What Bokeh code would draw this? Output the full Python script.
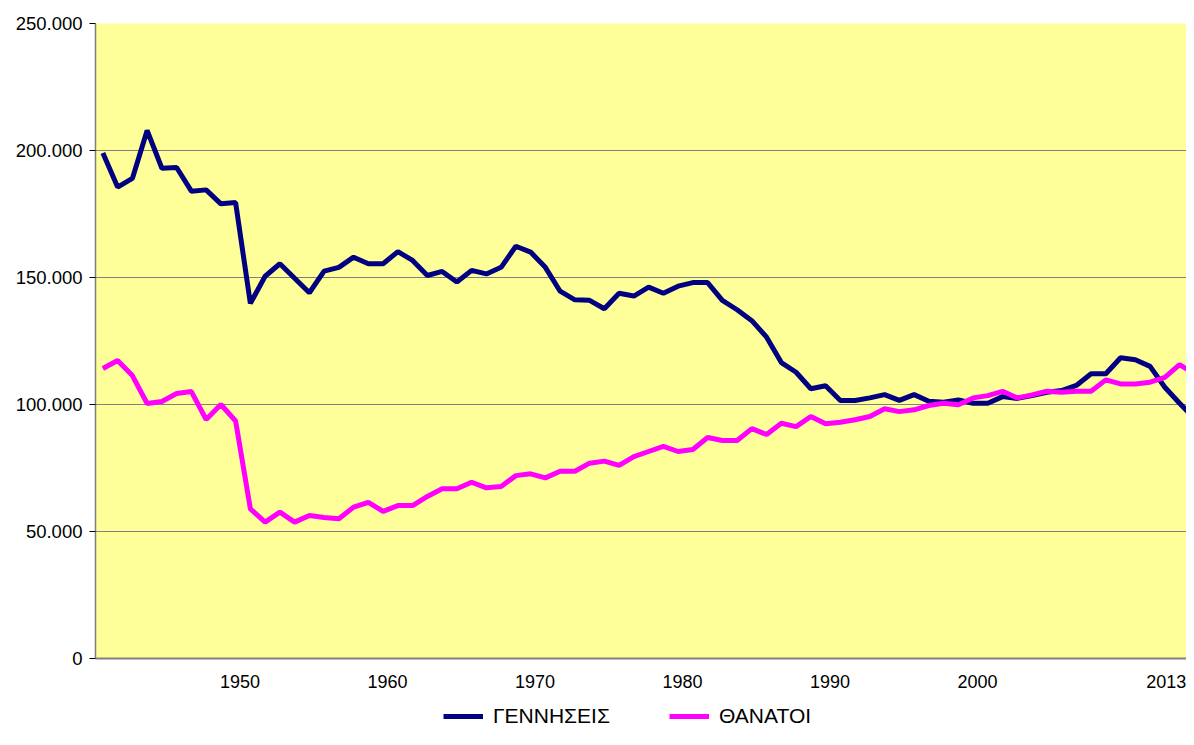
from bokeh.plotting import figure
from bokeh.models import Range1d, FixedTicker, Legend, LegendItem
from bokeh.layouts import column
from bokeh.embed import file_html
from bokeh.resources import INLINE

# Values in thousands, one per category (left to right)
births_k = [199.0, 185.6, 189.0, 207.9, 193.0, 193.3, 184.0, 184.5, 179.0, 179.5,
            139.8, 150.5, 155.4, 149.7, 144.0, 152.5, 154.0, 158.0, 155.4, 155.4,
            160.2, 156.7, 150.8, 152.4, 148.2, 152.8, 151.4, 154.0, 162.3, 160.0,
            154.0, 144.6, 141.2, 141.0, 137.7, 143.8, 142.7, 146.2, 143.8, 146.6,
            148.0, 148.0, 141.0, 137.3, 133.0, 126.5, 116.5, 112.7, 106.2, 107.4,
            101.6, 101.6, 102.6, 103.9, 101.6, 103.9, 101.3, 100.9, 101.8, 100.5,
            100.5, 103.1, 102.4, 103.5, 104.8, 105.5, 107.5, 112.1, 112.1, 118.4,
            117.6, 115.0, 106.8, 100.5, 94.4]
deaths_k = [114.2, 117.3, 111.4, 100.4, 101.2, 104.3, 105.1, 94.1, 100.0, 93.5,
            58.9, 53.7, 57.6, 53.7, 56.3, 55.5, 55.0, 59.6, 61.5, 57.9,
            60.2, 60.2, 63.8, 66.8, 66.8, 69.4, 67.2, 67.7, 72.0, 72.7,
            71.1, 73.7, 73.7, 76.9, 77.7, 76.0, 79.5, 81.5, 83.5, 81.5,
            82.3, 87.0, 85.8, 85.8, 90.5, 88.2, 92.6, 91.3, 95.3, 92.4,
            93.0, 94.0, 95.3, 98.3, 97.2, 97.9, 99.6, 100.5, 99.9, 102.6,
            103.5, 105.2, 102.6, 103.8, 105.2, 104.8, 105.2, 105.2, 109.7, 108.1,
            108.1, 108.8, 110.7, 115.7, 112.1]
series_names = ["ΓΕΝΝΗΣΕΙΣ", "ΘΑΝΑΤΟΙ"]
series_colors = ["#000080", "#FF00FF"]

x_tick_labels = ["1950", "1960", "1970", "1980", "1990", "2000", "2013"]
x_tick_index = [9, 19, 29, 39, 49, 59, 72]
y_ticks = [0, 50000, 100000, 150000, 200000, 250000]

births = [v * 1000 for v in births_k]
deaths = [v * 1000 for v in deaths_k]
idx = list(range(len(births)))

FONT = "Liberation Sans"
W = 1186
H_MAIN = 698
H_LEG = 31

p = figure(width=W, height=H_MAIN, output_backend="svg", toolbar_location=None,
           x_range=Range1d(-0.5, 73.47), y_range=Range1d(0, 250000),
           min_border_left=95, min_border_right=0, min_border_top=23,
           min_border_bottom=40)
p.background_fill_color = "#FFFF99"
p.border_fill_color = "white"
p.outline_line_color = None

p.line(idx, births, line_color=series_colors[0], line_width=5)
p.line(idx, deaths, line_color=series_colors[1], line_width=5)

# y axis
p.yaxis.ticker = FixedTicker(ticks=y_ticks)
p.yaxis.major_label_overrides = {t: (f"{t:,}".replace(",", ".")) for t in y_ticks}
p.yaxis.axis_line_color = "#808080"
p.yaxis.axis_line_width = 1.5
p.yaxis.major_tick_out = 6
p.yaxis.major_tick_in = 0
p.yaxis.major_tick_line_color = "#000000"
p.yaxis.minor_tick_line_color = None
p.yaxis.major_label_standoff = 7
p.yaxis.major_label_text_font = FONT
p.yaxis.major_label_text_font_size = "18.5px"
p.yaxis.major_label_text_color = "#000000"

# x axis
xt = [round(i + 0.3, 2) for i in x_tick_index[:-1]] + [round(x_tick_index[-1] + 0.1, 2)]
p.xaxis.ticker = FixedTicker(ticks=xt)
p.xaxis.major_label_overrides = {t: lab for t, lab in zip(xt, x_tick_labels)}
p.xaxis.axis_line_color = "#808080"
p.xaxis.axis_line_width = 2
p.xaxis.major_tick_out = 0
p.xaxis.major_tick_in = 0
p.xaxis.minor_tick_line_color = None
p.xaxis.major_label_standoff = 16
p.xaxis.major_label_text_font = FONT
p.xaxis.major_label_text_font_size = "18px"
p.xaxis.major_label_text_color = "#000000"

# grid
p.xgrid.visible = False
p.ygrid.ticker = FixedTicker(ticks=y_ticks)
p.ygrid.grid_line_color = "#808080"
p.ygrid.grid_line_width = 1

# legend strip underneath: its own small figure; the series are drawn there
# outside the visible range, so only their legend entries show
lg = figure(width=W, height=H_LEG, output_backend="svg", toolbar_location=None,
            x_range=Range1d(0, 1), y_range=Range1d(0, 1),
            x_axis_type=None, y_axis_type=None, min_border=0,
            min_border_left=0, min_border_right=0, min_border_top=0,
            min_border_bottom=0)
lg.outline_line_color = None
lg.grid.visible = False
lg.background_fill_color = "white"
lr1 = lg.line(idx, births, line_color=series_colors[0], line_width=5)
lr2 = lg.line(idx, deaths, line_color=series_colors[1], line_width=5)
legend = Legend(items=[LegendItem(label=series_names[0], renderers=[lr1]),
                       LegendItem(label=series_names[1], renderers=[lr2])],
                orientation="horizontal", location=(348, 1),
                glyph_width=40, glyph_height=20, label_height=20,
                label_standoff=10, spacing=59,
                label_text_font=FONT, label_text_font_size="21px",
                label_text_color="#000000",
                border_line_color=None, background_fill_alpha=0,
                padding=0, margin=0)
lg.add_layout(legend, "center")

layout = column(p, lg, spacing=0)
open("out.html", "w").write(file_html(layout, INLINE))
